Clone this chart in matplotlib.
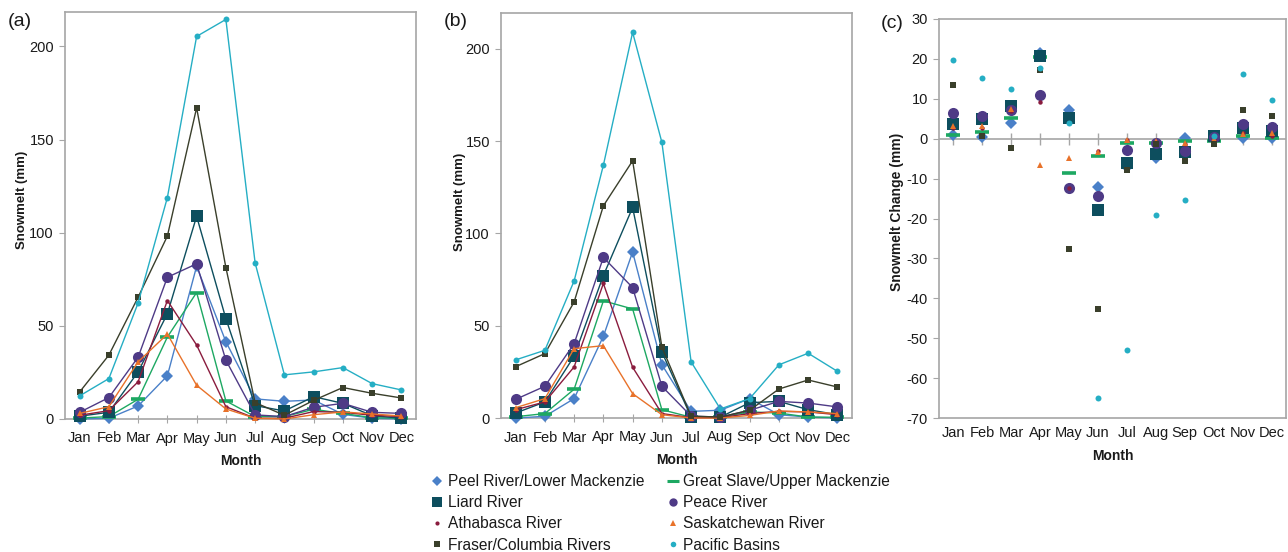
import matplotlib
matplotlib.use("Agg")
import matplotlib.pyplot as plt
from matplotlib.lines import Line2D
import numpy as np

plt.rcParams['font.family'] = ['Liberation Sans', 'DejaVu Sans']
plt.rcParams['axes.unicode_minus'] = False

months = ['Jan', 'Feb', 'Mar', 'Apr', 'May', 'Jun', 'Jul', 'Aug', 'Sep', 'Oct', 'Nov', 'Dec']
series_names = ['Peel River/Lower Mackenzie', 'Great Slave/Upper Mackenzie', 'Liard River',
                'Peace River', 'Athabasca River', 'Saskatchewan River',
                'Fraser/Columbia Rivers', 'Pacific Basins']

# panel (a)
a_peel = [0.0, 0.4, 7.0, 23.2, 82.0, 41.5, 10.8, 9.5, 10.2, 2.5, 0.4, 0.0]
a_gslave = [0.5, 1.3, 10.6, 44.0, 67.9, 9.7, 1.3, 1.3, 5.2, 3.0, 0.7, 0.4]
a_liard = [1.5, 3.6, 25.3, 56.5, 108.8, 53.9, 7.2, 4.3, 12.0, 8.4, 1.8, 0.4]
a_peace = [3.6, 11.5, 33.2, 76.1, 83.3, 31.6, 2.2, 1.3, 6.3, 8.4, 3.6, 3.0]
a_athab = [2.0, 4.5, 20.0, 63.6, 39.7, 6.6, 0.4, 0.4, 4.0, 3.6, 2.0, 1.3]
a_sask = [3.0, 6.6, 30.7, 45.6, 18.1, 5.4, 0.4, 0.0, 2.3, 3.8, 2.7, 1.6]
a_fraser = [14.5, 34.3, 65.4, 98.2, 167.1, 81.3, 8.8, 2.0, 10.0, 16.9, 13.8, 11.3]
a_pacific = [12.4, 21.7, 62.3, 118.9, 205.4, 214.5, 83.8, 23.7, 25.3, 27.6, 19.0, 15.6]

# panel (b)
b_peel = [0.0, 0.9, 10.5, 44.3, 90.0, 28.9, 3.6, 4.2, 10.5, 1.8, 0.5, 0.0]
b_gslave = [0.7, 2.4, 15.6, 63.5, 59.1, 4.5, 0.4, 0.4, 3.3, 2.7, 0.5, 0.4]
b_liard = [2.7, 8.7, 33.5, 77.2, 114.1, 35.8, 0.5, 0.5, 8.3, 9.0, 4.5, 1.8]
b_peace = [10.1, 17.2, 40.3, 87.0, 70.7, 17.2, 1.0, 0.5, 4.2, 9.0, 8.1, 6.0]
b_athab = [4.5, 8.7, 27.7, 72.9, 27.5, 2.4, 0.2, 0.2, 2.4, 3.6, 3.3, 1.8]
b_sask = [5.6, 10.5, 37.6, 39.2, 13.2, 1.8, 0.0, 0.0, 1.4, 3.8, 3.3, 2.4]
b_fraser = [27.8, 34.9, 62.9, 115.0, 139.4, 38.5, 1.0, 0.5, 4.2, 15.7, 20.6, 16.8]
b_pacific = [31.5, 36.7, 74.3, 137.0, 209.0, 149.4, 30.4, 4.9, 10.5, 28.8, 35.1, 25.3]

# panel (c)
c_peel = [1.0, 0.5, 3.9, 21.5, 7.3, -12.2, -7.0, -4.8, 0.3, 0.1, 0.2, 0.3]
c_gslave = [1.0, 1.6, 5.2, 20.4, -8.7, -4.4, -1.0, -1.2, -0.7, -0.5, 0.8, 0.3]
c_liard = [3.7, 5.0, 8.3, 20.8, 5.2, -17.8, -6.2, -3.8, -3.3, 0.6, 2.8, 2.0]
c_peace = [6.4, 5.8, 7.3, 11.0, -12.4, -14.3, -2.9, -1.0, -3.1, 0.5, 3.8, 3.0]
c_athab = [2.7, 2.7, 7.0, 9.3, -12.3, -3.0, -0.3, -0.8, -1.4, -0.3, 1.5, 0.8]
c_sask = [3.2, 3.3, 7.5, -6.6, -4.8, -3.3, -0.4, -0.5, -1.0, 0.0, 1.2, 1.5]
c_fraser = [13.4, 0.6, -2.3, 17.2, -27.7, -42.6, -7.8, -1.3, -5.5, -1.3, 7.1, 5.6]
c_pacific = [19.6, 15.3, 12.4, 17.8, 3.9, -65.0, -53.0, -19.2, -15.4, 0.8, 16.3, 9.8]

colors = ['#4A80C8', '#1DA862', '#0D4E5E', '#4E3A86', '#8A1C3E', '#E8722A', '#3A3F2B', '#25AEC4']
markers = ['D', '_', 's', 'o', 'o', '^', 's', 'o']
msizes = [6.5, 10, 8, 8, 3.2, 4.2, 4.2, 4.3]
mews = [0, 2.6, 0, 0, 0, 0, 0, 0]
leg_sizes = [5, 8, 6.5, 6, 3, 4, 4, 4]

data_a = [a_peel, a_gslave, a_liard, a_peace, a_athab, a_sask, a_fraser, a_pacific]
data_b = [b_peel, b_gslave, b_liard, b_peace, b_athab, b_sask, b_fraser, b_pacific]
data_c = [c_peel, c_gslave, c_liard, c_peace, c_athab, c_sask, c_fraser, c_pacific]

W, H = 1288, 552
fig = plt.figure(figsize=(W / 100, H / 100), dpi=100)

def px_axes(l, t, r, b):
    return fig.add_axes([l / W, 1 - b / H, (r - l) / W, (b - t) / H])

ax_a = px_axes(65, 12, 416, 419)
ax_b = px_axes(501, 13, 852, 418)
ax_c = px_axes(939, 19, 1286, 418)

x = np.arange(len(months))
spine_col = '#a6a6a6'
txt_col = '#1a1a1a'

def style(ax):
    for s in ax.spines.values():
        s.set_color(spine_col)
        s.set_linewidth(1.2)
    ax.set_xlim(-0.5, len(months) - 0.5)
    ax.set_xticks(x)
    ax.set_xticklabels(months)
    ax.tick_params(axis='both', colors=spine_col, labelcolor=txt_col, labelsize=10.5)
    ax.tick_params(axis='x', direction='inout', length=6, pad=6)
    ax.tick_params(axis='y', direction='out', length=4, pad=4)
    ax.set_xlabel('Month', fontsize=10, fontweight='bold', color=txt_col, labelpad=6)

for ax, data, top, lc in [(ax_a, data_a, 218.5, (-0.105, 0.538)), (ax_b, data_b, 219.5, (-0.101, 0.533))]:
    for i, d in enumerate(data):
        ax.plot(x, d, color=colors[i], lw=1.0, marker=markers[i], ms=msizes[i],
                mew=mews[i], mec=colors[i], mfc=colors[i], zorder=3, clip_on=False)
    style(ax)
    ax.set_ylim(0, top)
    ax.set_yticks([0, 50, 100, 150, 200])
    ax.set_ylabel('Snowmelt (mm)', fontsize=9.5, fontweight='bold', color=txt_col)
    ax.yaxis.set_label_coords(*lc)

for i, d in enumerate(data_c):
    ax_c.plot(x, d, ls='none', marker=markers[i], ms=msizes[i], mew=mews[i],
              mec=colors[i], mfc=colors[i], zorder=3)
style(ax_c)
ax_c.tick_params(axis='x', length=0)
ax_c.axhline(0, color=spine_col, lw=1.2, zorder=1)
ax_c.plot(x, np.zeros(len(months)), ls='none', marker='|', ms=8, mew=1.0, color=spine_col, zorder=1)
ax_c.set_ylim(-70, 30)
ax_c.set_yticks(np.arange(-70, 31, 10))
ax_c.set_ylabel('Snowmelt Change (mm)', fontsize=10, fontweight='bold', color=txt_col)
ax_c.yaxis.set_label_coords(-0.1, 0.516)

fig.text(8 / W, 1 - 22 / H, '(a)', fontsize=14, color=txt_col, va='center', ha='left')
fig.text(444 / W, 1 - 22 / H, '(b)', fontsize=14, color=txt_col, va='center', ha='left')
fig.text(881 / W, 1 - 24 / H, '(c)', fontsize=14, color=txt_col, va='center', ha='left')

handles = [Line2D([], [], ls='none', marker=markers[i], ms=leg_sizes[i], mew=(2.2 if mews[i] else 0),
                  mec=colors[i], mfc=colors[i]) for i in range(8)]
order = [0, 2, 4, 6, 1, 3, 5, 7]
fig.legend([handles[i] for i in order], [series_names[i] for i in order],
           loc='upper left', bbox_to_anchor=(432 / W, 1 - 474 / H), ncol=2, frameon=False,
           fontsize=11.2, handlelength=0.7, handletextpad=0.3, columnspacing=1.5,
           labelspacing=0.40, borderpad=0, borderaxespad=0, labelcolor=txt_col)

fig.savefig('out.png', dpi=100)
